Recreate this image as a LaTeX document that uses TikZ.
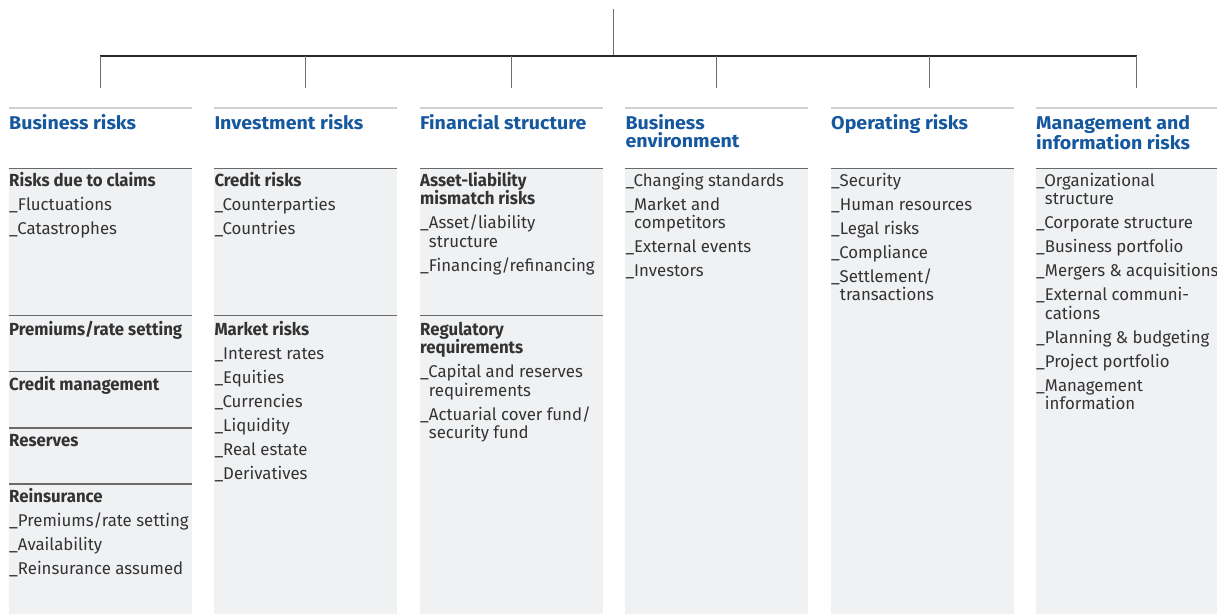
\documentclass[tikz,border=0pt]{standalone}
\usepackage{fontspec}
\setmainfont{Fira Sans}
\usetikzlibrary{calc}

\definecolor{inkgray}{RGB}{51,51,51}
\definecolor{titleblue}{RGB}{22,88,158}
\definecolor{panelfill}{RGB}{240,241,243}
\definecolor{barline}{RGB}{208,208,210}
\definecolor{ruleline}{RGB}{105,105,105}
\definecolor{stemline}{RGB}{110,110,110}
\definecolor{busline}{RGB}{40,40,40}

\newlength\calw
% line break with the gap used between list entries
\newcommand\nx{\\[5.5pt]}
% indent of a wrapped entry line, as wide as the leading underscore
\newcommand\ind{\phantom{\_}}
% bold sub-heading inside a panel
\newcommand\hd[1]{{\headfam\fontsize{17.5pt}{18.5pt}\selectfont\bfseries #1}}

\begin{document}
% narrowed families so that the set widths fit the columns
\settowidth\calw{\fontsize{17pt}{17pt}\selectfont\_Reinsurance assumed}
\pgfmathsetmacro\bodyst{174/\calw}
\settowidth\calw{\fontsize{17.5pt}{17.5pt}\selectfont\bfseries Premiums/rate setting}
\pgfmathsetmacro\headst{173/\calw}
\settowidth\calw{\fontsize{18.5pt}{18.5pt}\selectfont\bfseries Business risks}
\pgfmathsetmacro\titlest{127/\calw}
\edef\makefams{%
  \noexpand\newfontfamily\noexpand\bodyfam[FakeStretch=\bodyst]{Fira Sans}%
  \noexpand\newfontfamily\noexpand\headfam[FakeStretch=\headst]{Fira Sans}%
  \noexpand\newfontfamily\noexpand\titlefam[FakeStretch=\titlest]{Fira Sans}}
\makefams
\newcommand\bodyfont{\bodyfam\fontsize{17pt}{18.5pt}\selectfont}
\newcommand\titlefont{\titlefam\fontsize{18.5pt}{18.4pt}\selectfont\bfseries}

\begin{tikzpicture}[x=1pt,y=-1pt,
  panel/.style={fill=panelfill, draw=none, inner sep=0pt, outer sep=0pt,
    minimum width=183pt, minimum height=445.7pt, anchor=north west},
  topbar/.style={draw=barline, line width=2.2pt},
  rulebar/.style={draw=ruleline, line width=1.4pt},
  coltitle/.style={anchor=base west, inner sep=0pt, text=titleblue, font=\titlefont},
  entry/.style={anchor=base west, inner sep=0pt, text=inkgray, font=\bodyfont},
  bus/.style={draw=busline, line width=1.2pt},
  stem/.style={draw=stemline, line width=1pt}
]
\useasboundingbox (0,0) rectangle (1217,614);

% ---- tree connectors
\coordinate (root) at (613.3,9.3);
\coordinate (hub)  at (613.3,56);
\coordinate (t1) at (100.3,88.3);
\coordinate (t2) at (305,88.3);
\coordinate (t3) at (511,88.3);
\coordinate (t4) at (716.5,88.3);
\coordinate (t5) at (929,88.3);
\coordinate (t6) at (1136.7,88.3);
\draw[stem] (root) -- (hub);
\draw[bus] (t1 |- hub) -- (t6 |- hub);
\foreach \i in {1,...,6} \draw[stem] (t\i |- hub) -- (t\i);

% ---- panels
\node[panel] (p1) at (9,168.3) {};
\node[panel] (p2) at (214.3,168.3) {};
\node[panel] (p3) at (420,168.3) {};
\node[panel] (p4) at (625.3,168.3) {};
\node[panel] (p5) at (831,168.3) {};
\node[panel, minimum width=182pt] (p6) at (1036,168.3) {};

\coordinate (bar) at (0,107.7);
\coordinate (ra) at (0,315.7);
\coordinate (rb) at (0,371.7);
\coordinate (rc) at (0,428);
\coordinate (rd) at (0,484);
\foreach \p in {p1,p2,p3,p4,p5,p6}{
  \draw[topbar] (\p.west |- bar) -- (\p.east |- bar);
  \draw[rulebar] (\p.north west) -- (\p.north east);
}
\draw[rulebar] (p1.west |- ra) -- (p1.east |- ra);
\draw[rulebar] (p1.west |- rb) -- (p1.east |- rb);
\draw[rulebar] (p1.west |- rc) -- (p1.east |- rc);
\draw[rulebar] (p1.west |- rd) -- (p1.east |- rd);
\draw[rulebar] (p2.west |- ra) -- (p2.east |- ra);
\draw[rulebar] (p3.west |- ra) -- (p3.east |- ra);

% ---- column titles
\node[coltitle] (h1) at (9,129.3) {\parbox[t]{183pt}{Business risks}};
\node[coltitle] (h2) at (214.3,129.3) {\parbox[t]{183pt}{Investment risks}};
\node[coltitle] (h3) at (420,129.3) {\parbox[t]{183pt}{Financial structure}};
\node[coltitle] (h4) at (625.3,129.3) {\parbox[t]{183pt}{Business\\environment}};
\node[coltitle] (h5) at (831,129.3) {\parbox[t]{183pt}{Operating risks}};
\node[coltitle] (h6) at (1036,129.3) {\parbox[t]{183pt}{Management and\\information risks}};

% ---- business risks
\node[entry] (e11) at (9,186) {\parbox[t]{183pt}{\raggedright
  \hd{Risks due to claims}\nx \_Fluctuations\nx \_Catastrophes}};
\node[entry] (e12) at (9,335) {\parbox[t]{183pt}{\raggedright \hd{Premiums/rate setting}}};
\node[entry] (e13) at (9,390.5) {\parbox[t]{183pt}{\raggedright \hd{Credit management}}};
\node[entry] (e14) at (9,446.5) {\parbox[t]{183pt}{\raggedright \hd{Reserves}}};
\node[entry] (e15) at (9,502.7) {\parbox[t]{183pt}{\raggedright
  \hd{Reinsurance}\nx \_Premiums/rate setting\nx \_Availability\nx \_Reinsurance assumed}};

% ---- investment risks
\node[entry] (e21) at (214.3,186) {\parbox[t]{183pt}{\raggedright
  \hd{Credit risks}\nx \_Counterparties\nx \_Countries}};
\node[entry] (e22) at (214.3,335) {\parbox[t]{183pt}{\raggedright
  \hd{Market risks}\nx \_Interest rates\nx \_Equities\nx \_Currencies\nx
  \_Liquidity\nx \_Real estate\nx \_Derivatives}};

% ---- financial structure
\node[entry] (e31) at (420,186) {\parbox[t]{183pt}{\raggedright
  \hd{Asset-liability\\mismatch risks}\nx \_Asset/liability\\\ind structure\nx
  \_Financing/refinancing}};
\node[entry] (e32) at (420,335) {\parbox[t]{183pt}{\raggedright
  \hd{Regulatory\\requirements}\nx \_Capital and reserves\\\ind requirements\nx
  \_Actuarial cover fund/\\\ind security fund}};

% ---- business environment
\node[entry] (e41) at (625.3,186) {\parbox[t]{183pt}{\raggedright
  \_Changing standards\nx \_Market and\\\ind competitors\nx \_External events\nx \_Investors}};

% ---- operating risks
\node[entry] (e51) at (831,186) {\parbox[t]{183pt}{\raggedright
  \_Security\nx \_Human resources\nx \_Legal risks\nx \_Compliance\nx
  \_Settlement/\\\ind transactions}};

% ---- management and information risks
\node[entry] (e61) at (1036,186) {\parbox[t]{183pt}{\raggedright
  \_Organizational\\\ind structure\nx \_Corporate structure\nx \_Business portfolio\nx
  \_Mergers \& acquisitions\nx \_External communi-\\\ind cations\nx
  \_Planning \& budgeting\nx \_Project portfolio\nx \_Management\\\ind information}};
\end{tikzpicture}
\end{document}
